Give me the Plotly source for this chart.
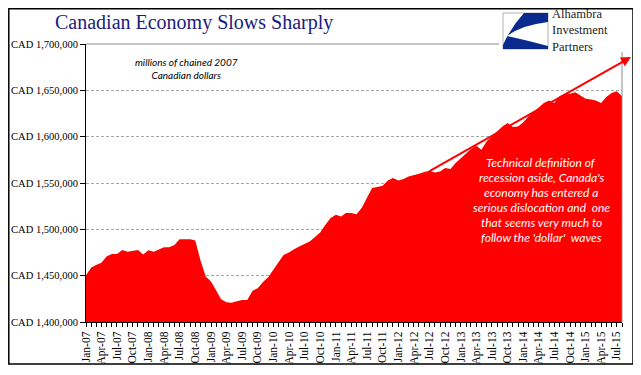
import plotly.graph_objects as go

# ---- data ----
start_month = "2007-01-01"
end_month = "2015-08-01"
months = [f"{y}-{m:02d}-01" for y in range(2007, 2016) for m in range(1, 13)][:104]

gdp_2007 = [1450500, 1458700, 1461600, 1464000, 1470600, 1473500, 1473500, 1477800, 1475700, 1476800, 1477800, 1472800]
gdp_2008 = [1477500, 1475700, 1478200, 1480800, 1480800, 1483200, 1489400, 1489700, 1489400, 1487900, 1466000, 1449000]
gdp_2009 = [1443600, 1433800, 1424500, 1421300, 1420900, 1422400, 1423800, 1423800, 1433800, 1436400, 1443200, 1448300]
gdp_2010 = [1456200, 1465200, 1472400, 1474900, 1478600, 1481400, 1484300, 1486800, 1491600, 1496500, 1504900, 1512100]
gdp_2011 = [1515700, 1513800, 1517500, 1517500, 1516400, 1522900, 1533700, 1544500, 1545600, 1547000, 1552800, 1555400]
gdp_2012 = [1552800, 1554300, 1557100, 1558200, 1560000, 1561800, 1563200, 1561400, 1562500, 1566200, 1565100, 1571600]
gdp_2013 = [1577000, 1582400, 1586700, 1590300, 1586000, 1595000, 1600400, 1605700, 1611100, 1614800, 1610500, 1611100]
gdp_2014 = [1615500, 1622000, 1626300, 1631000, 1636400, 1639000, 1636400, 1643600, 1646200, 1646200, 1648000, 1644300]
gdp_2015 = [1640800, 1640000, 1638900, 1636400, 1642900, 1647200, 1649000, 1643600]
gdp = gdp_2007 + gdp_2008 + gdp_2009 + gdp_2010 + gdp_2011 + gdp_2012 + gdp_2013 + gdp_2014 + gdp_2015

title_text = "Canadian Economy Slows Sharply"
units_text = "millions of chained 2007<br>Canadian dollars"
note_lines = ["Technical definition of", "recession aside, Canada's", "economy has entered a",
              "serious dislocation and  one", "that seems very much to", "follow the 'dollar'  waves"]
logo_lines = ["Alhambra", "Investment", "Partners"]

# ---- layout geometry (screen pixels; page body has an 8px margin) ----
OFF = 8
W, H = 641 - OFF, 375 - OFF
L, R, T, B = 86, 622, 44, 322   # plot area on screen


def px(x):
    return (x - L) / (R - L)


def py(y):
    return (B - y) / (B - T)


fig = go.Figure()
fig.add_trace(go.Scatter(
    x=months, y=gdp, mode="lines", fill="tozeroy",
    line=dict(color="#ff0000", width=0), fillcolor="#ff0000",
    hoverinfo="skip", showlegend=False))

serif = "Liberation Serif, Times New Roman, serif"
sans = "Lato, Open Sans, sans-serif"

fig.update_layout(
    width=W, height=H,
    margin=dict(l=L - OFF, r=641 - R, t=T - OFF, b=375 - B, autoexpand=False),
    paper_bgcolor="white", plot_bgcolor="white",
    showlegend=False,
    xaxis=dict(
        type="date", range=[start_month, end_month], automargin=False,
        tickformat="%b-%y", dtick="M3", tick0="2007-01-01",
        tickangle=-90, ticks="outside", ticklen=4, tickcolor="black",
        tickfont=dict(family=serif, size=11.5, color="black"),
        showline=True, linecolor="black", linewidth=1,
        showgrid=False, zeroline=False,
        minor=dict(dtick="M1", ticks="outside", ticklen=4, tickcolor="black", showgrid=False),
    ),
    yaxis=dict(
        range=[1400000, 1700000], dtick=50000, tickformat=",d", tickprefix="CAD ",
        automargin=False,
        ticks="outside", ticklen=5, tickcolor="black",
        tickfont=dict(family=serif, size=10.5, color="black"),
        showline=True, linecolor="black", linewidth=1,
        showgrid=True, gridcolor="#a8a8a8", griddash="3px,2px", gridwidth=1,
        zeroline=False,
    ),
)

shapes = []
# top solid line and right border of plot area
shapes.append(dict(type="line", xref="paper", yref="paper", x0=0, x1=1, y0=1, y1=1,
                   line=dict(color="#8c8c8c", width=1)))
shapes.append(dict(type="line", xref="paper", yref="paper", x0=1, x1=1, y0=0, y1=1,
                   line=dict(color="#8c8c8c", width=1)))
# outer frame
shapes.append(dict(type="rect", xref="paper", yref="paper", x0=px(8.8), x1=px(633), y0=py(364), y1=py(8.8),
                   line=dict(color="black", width=1.5), fillcolor="rgba(0,0,0,0)", layer="above"))
# logo background (covers plot top-right)
shapes.append(dict(type="rect", xref="paper", yref="paper", x0=px(499), x1=px(630), y0=py(52), y1=py(10),
                   line=dict(width=0), fillcolor="white", layer="above"))
shapes.append(dict(type="rect", xref="paper", yref="paper", x0=px(503), x1=px(548), y0=py(49), y1=py(13),
                   line=dict(color="#b0b0b0", width=1), fillcolor="white", layer="above"))


def P(x, y):
    return f"{px(x):.5f},{py(y):.5f}"


logo_path = (f"M {P(524,13)} L {P(548,13)} L {P(548,22)} Q {P(522,25)} {P(507,36)} "
             f"Q {P(526,40)} {P(548,46)} L {P(548,49)} L {P(503,49)} L {P(503,45)} "
             f"Q {P(511,27)} {P(524,13)} Z")
shapes.append(dict(type="path", xref="paper", yref="paper", path=logo_path,
                   fillcolor="#0b2a90", line=dict(width=0), layer="above"))
fig.update_layout(shapes=shapes)

ann = []
ann.append(dict(text=title_text, xref="paper", yref="paper", x=px(53), y=py(22),
                xanchor="left", yanchor="middle", showarrow=False,
                font=dict(family=serif, size=20, color="#1b1b7d")))
ann.append(dict(text="<br>".join(logo_lines), xref="paper", yref="paper", x=px(551), y=py(30.5),
                xanchor="left", yanchor="middle", showarrow=False, borderpad=0, align="left",
                font=dict(family=serif, size=12.5, color="#222222")))
ann.append(dict(text=f"<i>{units_text}</i>", xref="paper", yref="paper", x=px(186), y=py(68),
                xanchor="center", yanchor="middle", showarrow=False, align="center",
                font=dict(family=sans, size=10, color="black")))
for i, t in enumerate(note_lines):
    ann.append(dict(text=f"<i>{t}</i>", xref="paper", yref="paper", x=px(541), y=py(162 + 15 * i),
                    xanchor="center", yanchor="middle", showarrow=False,
                    font=dict(family=sans, size=12, color="white")))
# trend arrow
ann.append(dict(text="", xref="paper", yref="paper", x=px(631), y=py(57),
                ax=428 - 631, ay=172 - 57, showarrow=True, arrowhead=2, arrowsize=1,
                arrowwidth=2, arrowcolor="#ff0000", standoff=0, startstandoff=0))
fig.update_layout(annotations=ann)

fig.write_html("out.html", config={"displayModeBar": False})
